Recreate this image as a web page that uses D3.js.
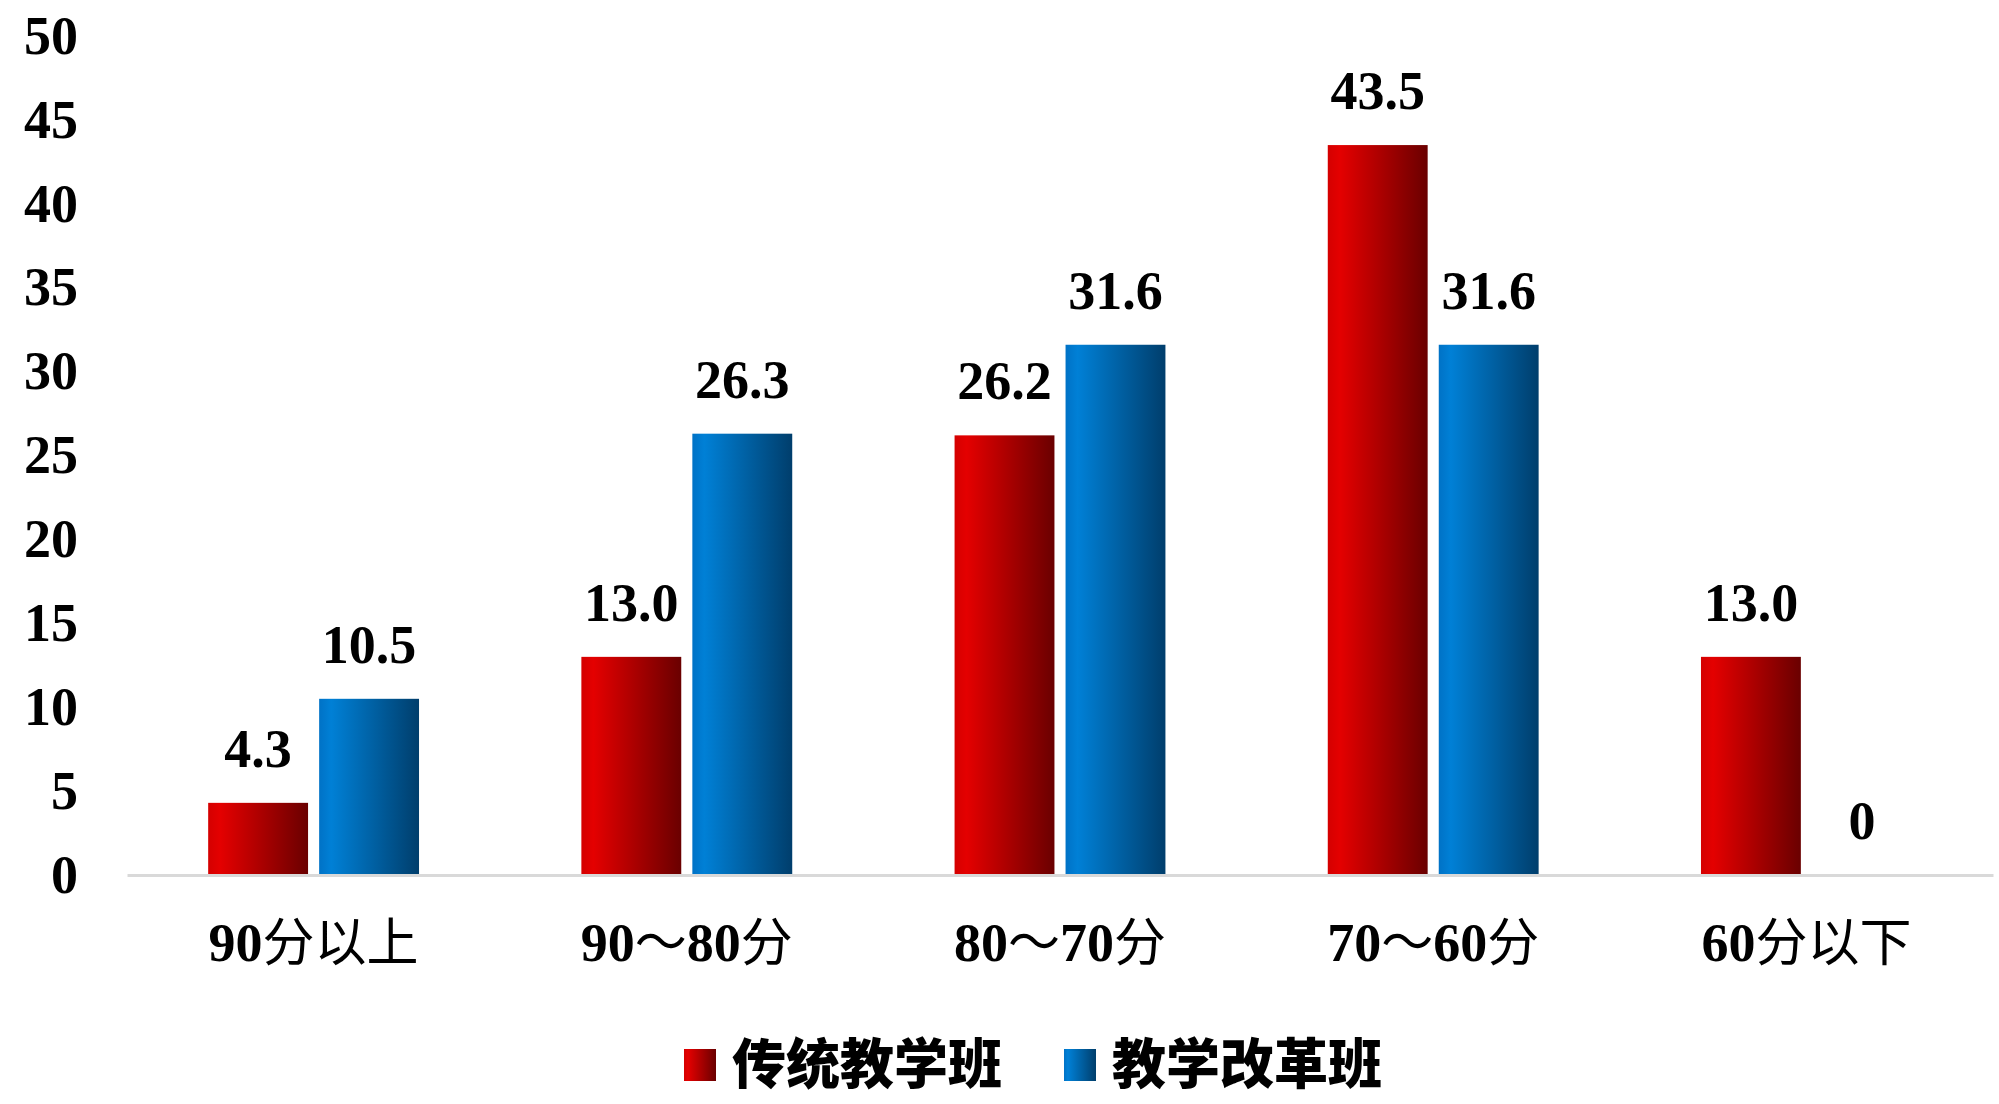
<!DOCTYPE html>
<html>
<head>
<meta charset="utf-8">
<script src="https://cdn.jsdelivr.net/npm/d3@7"></script>
<style>
  body { margin: 0; background: #fff; }
  svg { display: block; }
</style>
</head>
<body>
<svg width="1999" height="1104"></svg>
<script>
// data
const categories = ["90分以上", "90～80分", "80～70分", "70～60分", "60分以下"];
const seriesNames = ["传统教学班", "教学改革班"];
const traditional = [4.3, 13.0, 26.2, 43.5, 13.0];
const reformed = [10.5, 26.3, 31.6, 31.6, 0];
const yTicks = [0, 5, 10, 15, 20, 25, 30, 35, 40, 45, 50];

const seriesValues = [traditional, reformed];
const gradients = [
  { id: "gradRed", stops: [["0%", "#d40000"], ["12%", "#e40000"], ["100%", "#6a0000"]] },
  { id: "gradBlue", stops: [["0%", "#0072c6"], ["12%", "#0080d6"], ["100%", "#003e6c"]] },
];
const serif = '"Liberation Serif", "Times New Roman", Tinos, "DejaVu Serif", serif';

const svg = d3.select("svg");

const defs = svg.append("defs");
gradients.forEach(g => {
  const lg = defs.append("linearGradient").attr("id", g.id)
    .attr("x1", "0%").attr("x2", "100%").attr("y1", "0%").attr("y2", "0%");
  g.stops.forEach(s => lg.append("stop").attr("offset", s[0]).attr("stop-color", s[1]));
});

const x0 = d3.scaleBand()
  .domain(categories)
  .range([127, 1993])
  .paddingInner(0.435)
  .paddingOuter(0.2175);

const x1 = d3.scaleBand()
  .domain(seriesNames)
  .range([0, x0.bandwidth()])
  .paddingInner(0.1);

const y = d3.scaleLinear().domain([0, 50]).range([875, 36]);

// y axis labels
const gY = svg.append("g")
  .attr("transform", "translate(78,0)")
  .call(d3.axisLeft(y).tickValues(yTicks).tickSize(0).tickPadding(0));
gY.attr("font-family", null).attr("font-size", null);
gY.select(".domain").remove();
gY.selectAll("text")
  .style("font-family", serif)
  .style("font-weight", "bold")
  .style("font-size", "54px")
  .attr("fill", "#000");

// bars
const groups = svg.append("g").selectAll("g")
  .data(categories)
  .join("g")
  .attr("transform", c => `translate(${x0(c)},0)`);

groups.selectAll("rect")
  .data((c, i) => seriesNames.map((s, j) => ({ s, j, v: seriesValues[j][i] })))
  .join("rect")
  .attr("x", d => x1(d.s))
  .attr("width", x1.bandwidth())
  .attr("y", d => y(d.v))
  .attr("height", d => y(0) - y(d.v))
  .attr("fill", d => `url(#${gradients[d.j].id})`);

groups.selectAll("text.val")
  .data((c, i) => seriesNames.map((s, j) => ({ s, j, v: seriesValues[j][i] })))
  .join("text")
  .attr("class", "val")
  .attr("x", d => x1(d.s) + x1.bandwidth() / 2)
  .attr("y", d => y(d.v) - 36)
  .attr("text-anchor", "middle")
  .style("font-family", serif)
  .style("font-weight", "bold")
  .style("font-size", "54px")
  .text(d => d.v === 0 ? "0" : d.v.toFixed(1));

// x axis
const gX = svg.append("g")
  .attr("transform", `translate(0,${y(0)})`)
  .call(d3.axisBottom(x0).tickSize(0).tickSizeOuter(0).tickPadding(0));
gX.attr("font-family", null).attr("font-size", null);
gX.select(".domain").attr("stroke", "#d9d9d9").attr("stroke-width", 3);
gX.selectAll(".tick text").each(function(c) {
  const t = d3.select(this).text(null)
    .attr("y", 86).attr("dy", null)
    .attr("fill", "#000")
    .attr("text-anchor", "middle");
  (c.match(/[0-9]+|[^0-9]+/g) || []).forEach(part => {
    const isNum = /^[0-9]+$/.test(part);
    t.append("tspan")
      .style("font-family", isNum ? serif : '"Noto Sans CJK SC", sans-serif')
      .style("font-weight", isNum ? "bold" : "normal")
      .style("font-size", isNum ? "54px" : "52px")
      .text(part);
  });
});

// legend
const legend = svg.append("g").attr("transform", "translate(684,1065)");
let lx = 0;
seriesNames.forEach((name, j) => {
  const item = legend.append("g").attr("transform", `translate(${lx},0)`);
  item.append("rect")
    .attr("x", 0).attr("y", -16)
    .attr("width", 32).attr("height", 32)
    .attr("fill", `url(#${gradients[j].id})`);
  const t = item.append("text")
    .attr("x", 48).attr("y", 0).attr("dy", "0.36em")
    .style("font-family", '"Noto Sans CJK SC", sans-serif')
    .style("font-weight", 900)
    .style("font-size", "54px")
    .attr("fill", "#000")
    .text(name);
  lx += 48 + t.node().getComputedTextLength() + 62;
});
</script>
</body>
</html>
